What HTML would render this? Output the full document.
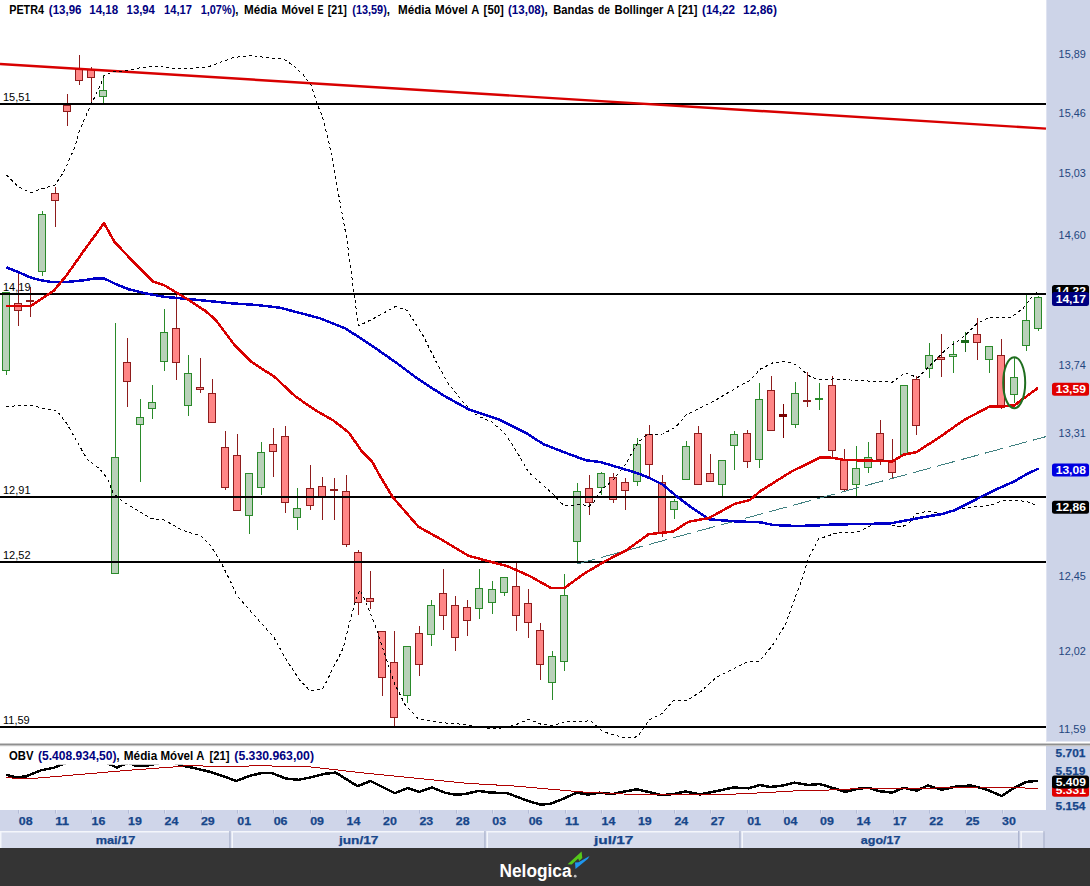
<!DOCTYPE html>
<html><head><meta charset="utf-8"><title>PETR4</title>
<style>
html,body{margin:0;padding:0;background:#fff;}
body{width:1090px;height:886px;overflow:hidden;font-family:"Liberation Sans",sans-serif;}
svg{display:block;font-family:"Liberation Sans",sans-serif;}
.t{font-size:12px;font-weight:bold;}
.n{fill:#000080;}
</style></head><body>
<svg width="1090" height="886" viewBox="0 0 1090 886">
<rect x="0" y="0" width="1090" height="886" fill="#fff"/>
<!-- right axis -->
<rect x="1046" y="0" width="44" height="741.5" fill="#cdd4e8"/>
<rect x="1046" y="0" width="1" height="741.5" fill="#dfe3f1"/>
<rect x="1046" y="746" width="44" height="64" fill="#cdd4e8"/>
<rect x="0" y="810" width="1090" height="38" fill="#cfd5e9"/>
<!-- pane separator -->
<rect x="0" y="743.5" width="1090" height="1.5" fill="#8f8f8f"/>
<rect x="0" y="745" width="1090" height="1.2" fill="#c4c4c4"/>
<!-- title -->
<text x="9.2" y="13.6" font-size="12" font-weight="bold" fill="#000" textLength="34.8" lengthAdjust="spacingAndGlyphs">PETR4</text>
<text x="48.8" y="13.6" font-size="12" font-weight="bold" fill="#000080" textLength="32.7" lengthAdjust="spacingAndGlyphs">(13,96</text>
<text x="89.2" y="13.6" font-size="12" font-weight="bold" fill="#000080" textLength="29.0" lengthAdjust="spacingAndGlyphs">14,18</text>
<text x="126.6" y="13.6" font-size="12" font-weight="bold" fill="#000080" textLength="28.3" lengthAdjust="spacingAndGlyphs">13,94</text>
<text x="164" y="13.6" font-size="12" font-weight="bold" fill="#000080" textLength="27.9" lengthAdjust="spacingAndGlyphs">14,17</text>
<text x="200.7" y="13.6" font-size="12" font-weight="bold" fill="#000080" textLength="34.6" lengthAdjust="spacingAndGlyphs">1,07%)</text>
<text x="235.3" y="13.6" font-size="12" font-weight="bold" fill="#000" textLength="3.2" lengthAdjust="spacingAndGlyphs">,</text>
<text x="244" y="13.6" font-size="12" font-weight="bold" fill="#000" textLength="33.0" lengthAdjust="spacingAndGlyphs">Média</text>
<text x="281.5" y="13.6" font-size="12" font-weight="bold" fill="#000" textLength="32.3" lengthAdjust="spacingAndGlyphs">Móvel</text>
<text x="317.4" y="13.6" font-size="12" font-weight="bold" fill="#000" textLength="6.0" lengthAdjust="spacingAndGlyphs">E</text>
<text x="327.7" y="13.6" font-size="12" font-weight="bold" fill="#000" textLength="19.1" lengthAdjust="spacingAndGlyphs">[21]</text>
<text x="352.3" y="13.6" font-size="12" font-weight="bold" fill="#000080" textLength="34.5" lengthAdjust="spacingAndGlyphs">(13,59)</text>
<text x="386.8" y="13.6" font-size="12" font-weight="bold" fill="#000" textLength="3.2" lengthAdjust="spacingAndGlyphs">,</text>
<text x="398" y="13.6" font-size="12" font-weight="bold" fill="#000" textLength="33.0" lengthAdjust="spacingAndGlyphs">Média</text>
<text x="435" y="13.6" font-size="12" font-weight="bold" fill="#000" textLength="32.8" lengthAdjust="spacingAndGlyphs">Móvel</text>
<text x="471.3" y="13.6" font-size="12" font-weight="bold" fill="#000" textLength="8.1" lengthAdjust="spacingAndGlyphs">A</text>
<text x="483.6" y="13.6" font-size="12" font-weight="bold" fill="#000" textLength="20.2" lengthAdjust="spacingAndGlyphs">[50]</text>
<text x="508" y="13.6" font-size="12" font-weight="bold" fill="#000080" textLength="36.6" lengthAdjust="spacingAndGlyphs">(13,08)</text>
<text x="544.6" y="13.6" font-size="12" font-weight="bold" fill="#000" textLength="3.2" lengthAdjust="spacingAndGlyphs">,</text>
<text x="553.3" y="13.6" font-size="12" font-weight="bold" fill="#000" textLength="40.4" lengthAdjust="spacingAndGlyphs">Bandas</text>
<text x="598" y="13.6" font-size="12" font-weight="bold" fill="#000" textLength="12.0" lengthAdjust="spacingAndGlyphs">de</text>
<text x="614.6" y="13.6" font-size="12" font-weight="bold" fill="#000" textLength="48.8" lengthAdjust="spacingAndGlyphs">Bollinger</text>
<text x="666.8" y="13.6" font-size="12" font-weight="bold" fill="#000" textLength="7.8" lengthAdjust="spacingAndGlyphs">A</text>
<text x="678" y="13.6" font-size="12" font-weight="bold" fill="#000" textLength="19.5" lengthAdjust="spacingAndGlyphs">[21]</text>
<text x="702" y="13.6" font-size="12" font-weight="bold" fill="#000080" textLength="33.0" lengthAdjust="spacingAndGlyphs">(14,22</text>
<text x="743" y="13.6" font-size="12" font-weight="bold" fill="#000080" textLength="34.0" lengthAdjust="spacingAndGlyphs">12,86)</text>
<!-- candles -->
<g shape-rendering="crispEdges">
<line x1="6.5" x2="6.5" y1="292.3" y2="375.3" stroke="#2a8a2a" stroke-width="1"/>
<rect x="2.5" y="292.3" width="7" height="78.3" fill="#b9d1b9" stroke="#2a8a2a" stroke-width="1"/>
<line x1="18.5" x2="18.5" y1="272.5" y2="325.6" stroke="#8e1c1c" stroke-width="1"/>
<rect x="14.5" y="303.8" width="7" height="6.2" fill="#ff8686" stroke="#8e1c1c" stroke-width="1"/>
<line x1="30.5" x2="30.5" y1="287.0" y2="316.6" stroke="#8e1c1c" stroke-width="1"/>
<rect x="26.5" y="300.2" width="7" height="1.0" fill="#ff8686" stroke="#8e1c1c" stroke-width="1"/>
<line x1="42.5" x2="42.5" y1="211.0" y2="275.5" stroke="#2a8a2a" stroke-width="1"/>
<rect x="38.5" y="214.0" width="7" height="57.0" fill="#b9d1b9" stroke="#2a8a2a" stroke-width="1"/>
<line x1="55.5" x2="55.5" y1="187.0" y2="226.7" stroke="#8e1c1c" stroke-width="1"/>
<rect x="51.5" y="193.4" width="7" height="7.1" fill="#ff8686" stroke="#8e1c1c" stroke-width="1"/>
<line x1="67.5" x2="67.5" y1="93.8" y2="125.7" stroke="#8e1c1c" stroke-width="1"/>
<rect x="63.5" y="105.4" width="7" height="6.0" fill="#ff8686" stroke="#8e1c1c" stroke-width="1"/>
<line x1="79.5" x2="79.5" y1="55.0" y2="84.6" stroke="#8e1c1c" stroke-width="1"/>
<rect x="75.5" y="69.2" width="7" height="11.1" fill="#ff8686" stroke="#8e1c1c" stroke-width="1"/>
<line x1="91.5" x2="91.5" y1="67.2" y2="103.8" stroke="#8e1c1c" stroke-width="1"/>
<rect x="87.5" y="69.2" width="7" height="8.1" fill="#ff8686" stroke="#8e1c1c" stroke-width="1"/>
<line x1="103.5" x2="103.5" y1="75.0" y2="103.8" stroke="#2a8a2a" stroke-width="1"/>
<rect x="99.5" y="90.4" width="7" height="6.0" fill="#b9d1b9" stroke="#2a8a2a" stroke-width="1"/>
<line x1="115.5" x2="115.5" y1="323.0" y2="573.2" stroke="#2a8a2a" stroke-width="1"/>
<rect x="111.5" y="457.2" width="7" height="116.0" fill="#b9d1b9" stroke="#2a8a2a" stroke-width="1"/>
<line x1="127.5" x2="127.5" y1="338.0" y2="406.6" stroke="#8e1c1c" stroke-width="1"/>
<rect x="123.5" y="362.4" width="7" height="19.0" fill="#ff8686" stroke="#8e1c1c" stroke-width="1"/>
<line x1="140.5" x2="140.5" y1="399.0" y2="481.6" stroke="#2a8a2a" stroke-width="1"/>
<rect x="136.5" y="417.4" width="7" height="6.9" fill="#b9d1b9" stroke="#2a8a2a" stroke-width="1"/>
<line x1="152.5" x2="152.5" y1="385.0" y2="419.4" stroke="#2a8a2a" stroke-width="1"/>
<rect x="148.5" y="402.5" width="7" height="5.9" fill="#b9d1b9" stroke="#2a8a2a" stroke-width="1"/>
<line x1="164.5" x2="164.5" y1="309.0" y2="370.6" stroke="#2a8a2a" stroke-width="1"/>
<rect x="160.5" y="332.4" width="7" height="29.0" fill="#b9d1b9" stroke="#2a8a2a" stroke-width="1"/>
<line x1="176.5" x2="176.5" y1="293.0" y2="379.6" stroke="#8e1c1c" stroke-width="1"/>
<rect x="172.5" y="328.3" width="7" height="34.1" fill="#ff8686" stroke="#8e1c1c" stroke-width="1"/>
<line x1="188.5" x2="188.5" y1="355.0" y2="416.4" stroke="#2a8a2a" stroke-width="1"/>
<rect x="184.5" y="373.5" width="7" height="31.8" fill="#b9d1b9" stroke="#2a8a2a" stroke-width="1"/>
<line x1="200.5" x2="200.5" y1="358.0" y2="392.5" stroke="#8e1c1c" stroke-width="1"/>
<rect x="196.5" y="387.3" width="7" height="2.1" fill="#ff8686" stroke="#8e1c1c" stroke-width="1"/>
<line x1="212.5" x2="212.5" y1="378.9" y2="422.3" stroke="#8e1c1c" stroke-width="1"/>
<rect x="208.5" y="393.2" width="7" height="29.1" fill="#ff8686" stroke="#8e1c1c" stroke-width="1"/>
<line x1="225.5" x2="225.5" y1="431.0" y2="489.6" stroke="#8e1c1c" stroke-width="1"/>
<rect x="221.5" y="447.2" width="7" height="40.3" fill="#ff8686" stroke="#8e1c1c" stroke-width="1"/>
<line x1="237.5" x2="237.5" y1="433.8" y2="510.4" stroke="#8e1c1c" stroke-width="1"/>
<rect x="233.5" y="455.0" width="7" height="55.4" fill="#ff8686" stroke="#8e1c1c" stroke-width="1"/>
<line x1="249.5" x2="249.5" y1="473.0" y2="534.3" stroke="#2a8a2a" stroke-width="1"/>
<rect x="245.5" y="473.4" width="7" height="41.9" fill="#b9d1b9" stroke="#2a8a2a" stroke-width="1"/>
<line x1="261.5" x2="261.5" y1="442.0" y2="494.7" stroke="#2a8a2a" stroke-width="1"/>
<rect x="257.5" y="452.4" width="7" height="34.9" fill="#b9d1b9" stroke="#2a8a2a" stroke-width="1"/>
<line x1="273.5" x2="273.5" y1="428.2" y2="476.5" stroke="#8e1c1c" stroke-width="1"/>
<rect x="269.5" y="444.4" width="7" height="7.2" fill="#ff8686" stroke="#8e1c1c" stroke-width="1"/>
<line x1="285.5" x2="285.5" y1="426.2" y2="512.5" stroke="#8e1c1c" stroke-width="1"/>
<rect x="281.5" y="436.2" width="7" height="66.3" fill="#ff8686" stroke="#8e1c1c" stroke-width="1"/>
<line x1="297.5" x2="297.5" y1="488.0" y2="529.7" stroke="#2a8a2a" stroke-width="1"/>
<rect x="293.5" y="508.4" width="7" height="9.0" fill="#b9d1b9" stroke="#2a8a2a" stroke-width="1"/>
<line x1="310.5" x2="310.5" y1="465.0" y2="509.6" stroke="#8e1c1c" stroke-width="1"/>
<rect x="306.5" y="488.3" width="7" height="17.0" fill="#ff8686" stroke="#8e1c1c" stroke-width="1"/>
<line x1="322.5" x2="322.5" y1="477.0" y2="519.7" stroke="#8e1c1c" stroke-width="1"/>
<rect x="318.5" y="486.3" width="7" height="10.0" fill="#ff8686" stroke="#8e1c1c" stroke-width="1"/>
<line x1="334.5" x2="334.5" y1="478.0" y2="519.7" stroke="#8e1c1c" stroke-width="1"/>
<rect x="330.5" y="489.5" width="7" height="1.0" fill="#ff8686" stroke="#8e1c1c" stroke-width="1"/>
<line x1="346.5" x2="346.5" y1="474.7" y2="546.6" stroke="#8e1c1c" stroke-width="1"/>
<rect x="342.5" y="491.4" width="7" height="53.2" fill="#ff8686" stroke="#8e1c1c" stroke-width="1"/>
<line x1="358.5" x2="358.5" y1="550.0" y2="615.4" stroke="#8e1c1c" stroke-width="1"/>
<rect x="354.5" y="552.3" width="7" height="50.1" fill="#ff8686" stroke="#8e1c1c" stroke-width="1"/>
<line x1="370.5" x2="370.5" y1="570.7" y2="609.0" stroke="#8e1c1c" stroke-width="1"/>
<rect x="366.5" y="598.2" width="7" height="3.0" fill="#ff8686" stroke="#8e1c1c" stroke-width="1"/>
<line x1="382.5" x2="382.5" y1="631.2" y2="695.7" stroke="#8e1c1c" stroke-width="1"/>
<rect x="378.5" y="631.2" width="7" height="46.2" fill="#ff8686" stroke="#8e1c1c" stroke-width="1"/>
<line x1="394.5" x2="394.5" y1="631.0" y2="725.7" stroke="#8e1c1c" stroke-width="1"/>
<rect x="390.5" y="662.3" width="7" height="55.0" fill="#ff8686" stroke="#8e1c1c" stroke-width="1"/>
<line x1="407.5" x2="407.5" y1="646.4" y2="702.6" stroke="#2a8a2a" stroke-width="1"/>
<rect x="403.5" y="646.4" width="7" height="48.8" fill="#b9d1b9" stroke="#2a8a2a" stroke-width="1"/>
<line x1="419.5" x2="419.5" y1="626.0" y2="675.6" stroke="#8e1c1c" stroke-width="1"/>
<rect x="415.5" y="633.3" width="7" height="30.7" fill="#ff8686" stroke="#8e1c1c" stroke-width="1"/>
<line x1="431.5" x2="431.5" y1="600.0" y2="645.6" stroke="#2a8a2a" stroke-width="1"/>
<rect x="427.5" y="605.0" width="7" height="29.3" fill="#b9d1b9" stroke="#2a8a2a" stroke-width="1"/>
<line x1="443.5" x2="443.5" y1="569.0" y2="629.5" stroke="#8e1c1c" stroke-width="1"/>
<rect x="439.5" y="593.3" width="7" height="22.0" fill="#ff8686" stroke="#8e1c1c" stroke-width="1"/>
<line x1="455.5" x2="455.5" y1="596.0" y2="650.5" stroke="#8e1c1c" stroke-width="1"/>
<rect x="451.5" y="605.4" width="7" height="31.8" fill="#ff8686" stroke="#8e1c1c" stroke-width="1"/>
<line x1="467.5" x2="467.5" y1="600.0" y2="636.2" stroke="#8e1c1c" stroke-width="1"/>
<rect x="463.5" y="607.2" width="7" height="13.0" fill="#ff8686" stroke="#8e1c1c" stroke-width="1"/>
<line x1="479.5" x2="479.5" y1="569.0" y2="619.0" stroke="#2a8a2a" stroke-width="1"/>
<rect x="475.5" y="588.5" width="7" height="19.8" fill="#b9d1b9" stroke="#2a8a2a" stroke-width="1"/>
<line x1="492.5" x2="492.5" y1="581.0" y2="613.5" stroke="#2a8a2a" stroke-width="1"/>
<rect x="488.5" y="589.3" width="7" height="13.1" fill="#b9d1b9" stroke="#2a8a2a" stroke-width="1"/>
<line x1="504.5" x2="504.5" y1="577.3" y2="595.8" stroke="#2a8a2a" stroke-width="1"/>
<rect x="500.5" y="577.3" width="7" height="15.1" fill="#b9d1b9" stroke="#2a8a2a" stroke-width="1"/>
<line x1="516.5" x2="516.5" y1="562.0" y2="630.7" stroke="#8e1c1c" stroke-width="1"/>
<rect x="512.5" y="586.3" width="7" height="29.0" fill="#ff8686" stroke="#8e1c1c" stroke-width="1"/>
<line x1="528.5" x2="528.5" y1="589.0" y2="638.0" stroke="#8e1c1c" stroke-width="1"/>
<rect x="524.5" y="603.5" width="7" height="19.0" fill="#ff8686" stroke="#8e1c1c" stroke-width="1"/>
<line x1="540.5" x2="540.5" y1="623.0" y2="679.8" stroke="#8e1c1c" stroke-width="1"/>
<rect x="536.5" y="630.2" width="7" height="34.1" fill="#ff8686" stroke="#8e1c1c" stroke-width="1"/>
<line x1="552.5" x2="552.5" y1="650.7" y2="699.5" stroke="#2a8a2a" stroke-width="1"/>
<rect x="548.5" y="656.0" width="7" height="26.6" fill="#b9d1b9" stroke="#2a8a2a" stroke-width="1"/>
<line x1="564.5" x2="564.5" y1="574.2" y2="670.8" stroke="#2a8a2a" stroke-width="1"/>
<rect x="560.5" y="595.2" width="7" height="66.3" fill="#b9d1b9" stroke="#2a8a2a" stroke-width="1"/>
<line x1="577.5" x2="577.5" y1="483.0" y2="564.2" stroke="#2a8a2a" stroke-width="1"/>
<rect x="573.5" y="491.3" width="7" height="50.0" fill="#b9d1b9" stroke="#2a8a2a" stroke-width="1"/>
<line x1="589.5" x2="589.5" y1="474.8" y2="514.6" stroke="#8e1c1c" stroke-width="1"/>
<rect x="585.5" y="488.4" width="7" height="13.6" fill="#ff8686" stroke="#8e1c1c" stroke-width="1"/>
<line x1="601.5" x2="601.5" y1="472.0" y2="494.9" stroke="#2a8a2a" stroke-width="1"/>
<rect x="597.5" y="473.0" width="7" height="14.2" fill="#b9d1b9" stroke="#2a8a2a" stroke-width="1"/>
<line x1="613.5" x2="613.5" y1="473.0" y2="502.6" stroke="#8e1c1c" stroke-width="1"/>
<rect x="609.5" y="477.4" width="7" height="21.8" fill="#ff8686" stroke="#8e1c1c" stroke-width="1"/>
<line x1="625.5" x2="625.5" y1="478.2" y2="509.5" stroke="#8e1c1c" stroke-width="1"/>
<rect x="621.5" y="482.5" width="7" height="8.0" fill="#ff8686" stroke="#8e1c1c" stroke-width="1"/>
<line x1="637.5" x2="637.5" y1="437.8" y2="485.6" stroke="#2a8a2a" stroke-width="1"/>
<rect x="633.5" y="444.3" width="7" height="36.9" fill="#b9d1b9" stroke="#2a8a2a" stroke-width="1"/>
<line x1="649.5" x2="649.5" y1="425.0" y2="477.6" stroke="#8e1c1c" stroke-width="1"/>
<rect x="645.5" y="434.5" width="7" height="29.8" fill="#ff8686" stroke="#8e1c1c" stroke-width="1"/>
<line x1="662.5" x2="662.5" y1="475.0" y2="536.7" stroke="#8e1c1c" stroke-width="1"/>
<rect x="658.5" y="482.3" width="7" height="50.3" fill="#ff8686" stroke="#8e1c1c" stroke-width="1"/>
<line x1="674.5" x2="674.5" y1="498.7" y2="519.3" stroke="#2a8a2a" stroke-width="1"/>
<rect x="670.5" y="501.0" width="7" height="8.2" fill="#b9d1b9" stroke="#2a8a2a" stroke-width="1"/>
<line x1="686.5" x2="686.5" y1="441.0" y2="479.2" stroke="#2a8a2a" stroke-width="1"/>
<rect x="682.5" y="446.3" width="7" height="32.9" fill="#b9d1b9" stroke="#2a8a2a" stroke-width="1"/>
<line x1="698.5" x2="698.5" y1="426.0" y2="484.3" stroke="#8e1c1c" stroke-width="1"/>
<rect x="694.5" y="433.5" width="7" height="50.8" fill="#ff8686" stroke="#8e1c1c" stroke-width="1"/>
<line x1="710.5" x2="710.5" y1="453.8" y2="481.2" stroke="#8e1c1c" stroke-width="1"/>
<rect x="706.5" y="473.0" width="7" height="8.2" fill="#ff8686" stroke="#8e1c1c" stroke-width="1"/>
<line x1="722.5" x2="722.5" y1="460.4" y2="495.6" stroke="#2a8a2a" stroke-width="1"/>
<rect x="718.5" y="460.4" width="7" height="23.9" fill="#b9d1b9" stroke="#2a8a2a" stroke-width="1"/>
<line x1="734.5" x2="734.5" y1="431.0" y2="469.7" stroke="#2a8a2a" stroke-width="1"/>
<rect x="730.5" y="434.5" width="7" height="10.8" fill="#b9d1b9" stroke="#2a8a2a" stroke-width="1"/>
<line x1="747.5" x2="747.5" y1="430.0" y2="467.6" stroke="#8e1c1c" stroke-width="1"/>
<rect x="743.5" y="433.5" width="7" height="27.7" fill="#ff8686" stroke="#8e1c1c" stroke-width="1"/>
<line x1="759.5" x2="759.5" y1="383.0" y2="467.6" stroke="#2a8a2a" stroke-width="1"/>
<rect x="755.5" y="399.3" width="7" height="59.9" fill="#b9d1b9" stroke="#2a8a2a" stroke-width="1"/>
<line x1="771.5" x2="771.5" y1="376.0" y2="430.1" stroke="#8e1c1c" stroke-width="1"/>
<rect x="767.5" y="390.3" width="7" height="39.8" fill="#ff8686" stroke="#8e1c1c" stroke-width="1"/>
<line x1="783.5" x2="783.5" y1="404.0" y2="438.3" stroke="#7a0000" stroke-width="1"/>
<rect x="779.5" y="414.7" width="7" height="2.1" fill="#7a0000" stroke="#7a0000" stroke-width="1"/>
<line x1="795.5" x2="795.5" y1="382.0" y2="427.6" stroke="#2a8a2a" stroke-width="1"/>
<rect x="791.5" y="393.0" width="7" height="31.2" fill="#b9d1b9" stroke="#2a8a2a" stroke-width="1"/>
<line x1="807.5" x2="807.5" y1="371.6" y2="407.0" stroke="#8e1c1c" stroke-width="1"/>
<rect x="803.5" y="400.5" width="7" height="1.0" fill="#ff8686" stroke="#8e1c1c" stroke-width="1"/>
<line x1="819.5" x2="819.5" y1="383.0" y2="409.8" stroke="#2a8a2a" stroke-width="1"/>
<rect x="815.5" y="398.0" width="7" height="1.0" fill="#b9d1b9" stroke="#2a8a2a" stroke-width="1"/>
<line x1="832.5" x2="832.5" y1="376.0" y2="457.4" stroke="#8e1c1c" stroke-width="1"/>
<rect x="828.5" y="385.2" width="7" height="65.0" fill="#ff8686" stroke="#8e1c1c" stroke-width="1"/>
<line x1="844.5" x2="844.5" y1="448.8" y2="490.6" stroke="#8e1c1c" stroke-width="1"/>
<rect x="840.5" y="459.8" width="7" height="29.2" fill="#ff8686" stroke="#8e1c1c" stroke-width="1"/>
<line x1="856.5" x2="856.5" y1="446.2" y2="495.8" stroke="#2a8a2a" stroke-width="1"/>
<rect x="852.5" y="468.5" width="7" height="16.0" fill="#b9d1b9" stroke="#2a8a2a" stroke-width="1"/>
<line x1="868.5" x2="868.5" y1="441.8" y2="472.6" stroke="#2a8a2a" stroke-width="1"/>
<rect x="864.5" y="457.2" width="7" height="10.1" fill="#b9d1b9" stroke="#2a8a2a" stroke-width="1"/>
<line x1="880.5" x2="880.5" y1="420.0" y2="465.0" stroke="#8e1c1c" stroke-width="1"/>
<rect x="876.5" y="433.3" width="7" height="26.0" fill="#ff8686" stroke="#8e1c1c" stroke-width="1"/>
<line x1="892.5" x2="892.5" y1="439.3" y2="477.8" stroke="#8e1c1c" stroke-width="1"/>
<rect x="888.5" y="461.3" width="7" height="10.8" fill="#ff8686" stroke="#8e1c1c" stroke-width="1"/>
<line x1="904.5" x2="904.5" y1="385.3" y2="454.7" stroke="#2a8a2a" stroke-width="1"/>
<rect x="900.5" y="385.3" width="7" height="69.4" fill="#b9d1b9" stroke="#2a8a2a" stroke-width="1"/>
<line x1="916.5" x2="916.5" y1="376.3" y2="435.4" stroke="#8e1c1c" stroke-width="1"/>
<rect x="912.5" y="379.7" width="7" height="45.7" fill="#ff8686" stroke="#8e1c1c" stroke-width="1"/>
<line x1="929.5" x2="929.5" y1="343.2" y2="378.4" stroke="#2a8a2a" stroke-width="1"/>
<rect x="925.5" y="355.3" width="7" height="13.1" fill="#b9d1b9" stroke="#2a8a2a" stroke-width="1"/>
<line x1="941.5" x2="941.5" y1="334.0" y2="376.6" stroke="#8e1c1c" stroke-width="1"/>
<rect x="937.5" y="357.0" width="7" height="2.4" fill="#ff8686" stroke="#8e1c1c" stroke-width="1"/>
<line x1="953.5" x2="953.5" y1="340.6" y2="372.7" stroke="#2a8a2a" stroke-width="1"/>
<rect x="949.5" y="354.2" width="7" height="2.1" fill="#b9d1b9" stroke="#2a8a2a" stroke-width="1"/>
<line x1="965.5" x2="965.5" y1="332.0" y2="351.7" stroke="#1a6a1a" stroke-width="1"/>
<rect x="961.5" y="340.9" width="7" height="1.8" fill="#1a6a1a" stroke="#1a6a1a" stroke-width="1"/>
<line x1="977.5" x2="977.5" y1="318.0" y2="359.6" stroke="#8e1c1c" stroke-width="1"/>
<rect x="973.5" y="334.2" width="7" height="8.0" fill="#ff8686" stroke="#8e1c1c" stroke-width="1"/>
<line x1="989.5" x2="989.5" y1="346.5" y2="372.5" stroke="#2a8a2a" stroke-width="1"/>
<rect x="985.5" y="346.5" width="7" height="12.6" fill="#b9d1b9" stroke="#2a8a2a" stroke-width="1"/>
<line x1="1001.5" x2="1001.5" y1="338.6" y2="409.0" stroke="#8e1c1c" stroke-width="1"/>
<rect x="997.5" y="355.3" width="7" height="51.9" fill="#ff8686" stroke="#8e1c1c" stroke-width="1"/>
<line x1="1014.5" x2="1014.5" y1="358.3" y2="403.3" stroke="#2a8a2a" stroke-width="1"/>
<rect x="1010.5" y="377.0" width="7" height="17.8" fill="#b9d1b9" stroke="#2a8a2a" stroke-width="1"/>
<line x1="1026.5" x2="1026.5" y1="294.0" y2="350.6" stroke="#2a8a2a" stroke-width="1"/>
<rect x="1022.5" y="320.3" width="7" height="24.9" fill="#b9d1b9" stroke="#2a8a2a" stroke-width="1"/>
<line x1="1038.5" x2="1038.5" y1="296.0" y2="331.4" stroke="#2a8a2a" stroke-width="1"/>
<rect x="1034.5" y="297.2" width="7" height="31.1" fill="#b9d1b9" stroke="#2a8a2a" stroke-width="1"/>
</g>
<!-- horizontal lines -->
<g shape-rendering="crispEdges">
<rect x="0" y="103" width="1046" height="2" fill="#000"/><text x="3" y="101" font-size="11" fill="#000">15,51</text>
<rect x="0" y="293" width="1046" height="2" fill="#000"/><text x="3" y="291" font-size="11" fill="#000">14,19</text>
<rect x="0" y="496" width="1046" height="2" fill="#000"/><text x="3" y="494" font-size="11" fill="#000">12,91</text>
<rect x="0" y="561" width="1046" height="2" fill="#000"/><text x="3" y="559" font-size="11" fill="#000">12,52</text>
<rect x="0" y="726" width="1046" height="2" fill="#000"/><text x="3" y="724" font-size="11" fill="#000">11,59</text>
</g>
<g shape-rendering="crispEdges" fill="none" stroke-linejoin="round">
<!-- trend line red -->
<line x1="0" y1="64" x2="1046" y2="128.6" stroke="#d80000" stroke-width="2.4" shape-rendering="geometricPrecision"/>
<!-- teal dashed -->
<line x1="577" y1="564" x2="1046" y2="436.6" stroke="#408080" stroke-width="1" stroke-dasharray="18.65 6.22"/>
<!-- bollinger -->
<polyline points="6.4,175.0 18.0,186.4 30.8,192.8 41.0,189.0 55.2,185.0 64.2,171.0 74.5,148.0 79.6,130.0 90.0,106.8 100.0,86.0 104.0,76.0 111.8,72.0 128.5,70.3 141.4,67.5 156.8,66.2 172.2,68.3 192.7,68.3 208.0,67.0 218.4,63.0 233.8,57.5 250.5,55.4 269.8,58.0 282.6,58.5 293.0,65.2 303.2,74.7 311.0,85.0 317.3,104.2 322.5,117.0 329.0,142.7 334.0,168.4 340.4,204.4 347.0,240.4 353.4,288.8 358.5,326.0 376.5,317.0 395.8,306.3 407.3,310.6 422.7,335.0 435.6,360.7 448.4,383.8 463.8,403.0 474.0,413.4 480.0,416.9 491.7,422.0 505.0,433.8 516.7,451.4 528.4,472.0 543.0,485.0 554.9,496.0 559.3,501.3 564.4,505.7 574.0,505.0 582.8,504.5 588.6,507.0 594.5,501.3 601.8,489.5 609.0,483.7 615.0,477.8 625.3,464.6 632.7,451.4 637.8,442.6 647.0,434.5 662.7,434.0 675.6,427.3 685.9,415.2 696.0,410.0 714.0,401.0 727.0,393.4 739.8,385.7 750.0,380.5 760.4,369.0 773.2,362.6 786.0,361.3 796.3,365.0 804.0,371.6 810.4,376.7 819.4,380.0 833.0,378.9 861.4,380.7 892.2,382.2 905.0,373.0 917.9,377.6 930.7,364.8 946.0,349.4 964.0,336.5 977.0,323.7 989.8,317.2 1010.4,318.0 1023.2,308.3 1031.0,298.0 1038.0,290.8" stroke="#000" stroke-width="1" stroke-dasharray="3 3"/>
<polyline points="6.4,407.0 20.5,405.2 33.4,405.2 41.0,408.3 56.5,410.3 66.8,423.7 77.0,441.6 87.3,459.6 100.2,469.4 107.9,479.4 113.0,493.0 123.3,502.0 138.7,511.0 151.6,518.7 164.4,520.0 179.8,529.0 190.0,532.8 200.4,535.4 210.6,545.7 220.9,562.4 231.2,583.0 236.7,595.2 253.4,614.5 274.0,637.6 286.8,660.7 299.6,680.0 310.0,690.8 322.7,689.0 333.0,668.4 343.3,647.9 351.0,617.0 356.0,599.0 360.0,590.0 365.0,600.4 374.0,622.2 384.4,653.0 394.7,683.8 405.0,704.4 417.8,718.5 438.3,722.4 464.0,724.4 486.4,728.3 499.3,728.3 514.7,725.2 528.8,719.3 540.4,724.0 553.2,725.7 566.0,721.4 579.0,722.0 590.4,720.6 597.0,726.5 602.8,731.6 615.7,735.5 626.0,738.0 637.5,736.8 649.0,720.0 662.0,713.7 673.5,700.3 687.6,700.3 700.5,691.8 715.9,677.7 731.3,670.0 746.7,662.3 759.5,661.0 772.4,645.6 785.2,625.0 795.5,596.8 803.2,576.2 808.3,558.3 818.6,539.0 836.6,533.0 858.6,531.8 873.0,524.7 889.6,524.7 901.6,527.0 908.7,523.5 915.9,514.0 925.4,511.6 935.0,512.3 942.0,515.0 956.4,509.2 973.0,506.8 989.8,505.6 1001.8,500.8 1018.4,500.4 1028.0,502.0 1035.0,504.9" stroke="#000" stroke-width="1" stroke-dasharray="3 3"/>
<!-- SMA blue -->
<polyline points="6.4,267.3 18.0,272.0 30.8,277.6 41.0,280.2 51.4,282.0 66.8,282.0 84.8,280.2 95.0,278.4 104.0,278.4 115.6,284.0 128.4,289.2 143.8,293.0 164.4,296.9 179.8,298.2 205.5,300.7 231.2,303.3 256.9,305.0 280.0,307.7 320.0,318.3 345.7,328.6 371.4,345.3 397.0,363.3 417.6,378.7 443.3,395.4 469.0,409.5 499.8,419.8 525.5,432.7 543.5,444.2 566.6,453.2 585.7,460.2 601.0,462.2 637.0,473.0 650.0,478.2 662.7,484.6 678.0,497.4 693.6,509.0 709.0,519.3 734.7,521.3 760.4,522.3 773.2,525.0 796.3,526.0 816.9,525.4 830.0,524.7 858.6,524.0 889.6,523.5 908.7,520.0 925.4,516.8 942.0,514.0 954.0,510.4 968.4,503.2 982.7,496.0 997.0,489.0 1013.7,481.7 1028.0,473.4 1038.7,468.6" stroke="#0000c8" stroke-width="2.5"/>
<!-- EMA red -->
<polyline points="6.4,305.9 30.8,305.9 38.5,300.7 54.0,290.5 66.8,275.0 84.8,249.4 104.0,223.2 114.3,241.6 133.6,262.2 152.8,281.5 164.4,285.3 177.2,293.0 190.0,300.7 205.5,311.0 215.8,320.0 233.7,344.0 251.6,362.0 274.7,377.0 295.2,396.3 315.8,410.5 333.7,420.7 349.0,432.8 362.0,451.6 372.0,461.4 380.0,476.0 392.6,497.0 418.3,526.6 441.5,539.6 468.4,555.7 491.5,562.0 507.0,566.0 530.0,576.2 550.6,587.8 564.7,587.8 584.0,573.7 604.6,561.5 626.8,550.0 648.6,534.2 673.0,531.6 688.4,521.8 709.0,518.0 734.7,503.8 750.0,500.0 760.4,491.0 791.2,471.7 820.5,457.3 832.0,457.8 843.4,459.8 892.2,461.4 903.8,454.7 916.6,452.0 938.4,438.0 964.0,420.0 989.8,406.4 1002.7,406.4 1014.2,405.4 1025.8,396.9 1038.0,387.9" stroke="#d80000" stroke-width="2.5"/>
</g>
<!-- ellipse -->
<ellipse cx="1014.2" cy="382.7" rx="11" ry="25.5" fill="none" stroke="#1f6e1f" stroke-width="2"/>
<!-- axis labels -->
<text x="1058.6" y="58.2" font-size="11" fill="#24467e" textLength="27.2" lengthAdjust="spacingAndGlyphs">15,89</text><text x="1058.6" y="117.0" font-size="11" fill="#24467e" textLength="27.2" lengthAdjust="spacingAndGlyphs">15,46</text><text x="1058.6" y="176.9" font-size="11" fill="#24467e" textLength="27.2" lengthAdjust="spacingAndGlyphs">15,03</text><text x="1058.6" y="239.2" font-size="11" fill="#24467e" textLength="27.2" lengthAdjust="spacingAndGlyphs">14,60</text>
<text x="1058.6" y="368.8" font-size="11" fill="#24467e" textLength="27.2" lengthAdjust="spacingAndGlyphs">13,74</text><text x="1058.6" y="437.3" font-size="11" fill="#24467e" textLength="27.2" lengthAdjust="spacingAndGlyphs">13,31</text><text x="1058.6" y="579.8" font-size="11" fill="#24467e" textLength="27.2" lengthAdjust="spacingAndGlyphs">12,45</text><text x="1058.6" y="655.2" font-size="11" fill="#24467e" textLength="27.2" lengthAdjust="spacingAndGlyphs">12,02</text><text x="1058.6" y="733.0" font-size="11" fill="#24467e" textLength="27.2" lengthAdjust="spacingAndGlyphs">11,59</text>
<rect x="1052" y="285" width="37" height="13" rx="2.5" fill="#000"/><text x="1055.7" y="295.4" font-size="11" font-weight="bold" fill="#fff" textLength="30.2" lengthAdjust="spacingAndGlyphs">14,22</text>
<rect x="1052" y="292" width="37" height="14" rx="2.5" fill="#000080"/><text x="1055.7" y="303.4" font-size="11" font-weight="bold" fill="#fff" textLength="30.2" lengthAdjust="spacingAndGlyphs">14,17</text>
<rect x="1052" y="382.7" width="37" height="13" rx="2.5" fill="#e00000"/><text x="1055.7" y="393.1" font-size="11" font-weight="bold" fill="#fff" textLength="30.2" lengthAdjust="spacingAndGlyphs">13,59</text>
<rect x="1052" y="463.5" width="37" height="13" rx="2.5" fill="#0000e0"/><text x="1055.7" y="473.9" font-size="11" font-weight="bold" fill="#fff" textLength="30.2" lengthAdjust="spacingAndGlyphs">13,08</text>
<rect x="1052" y="500.8" width="37" height="13" rx="2.5" fill="#000"/><text x="1055.7" y="511.2" font-size="11" font-weight="bold" fill="#fff" textLength="30.2" lengthAdjust="spacingAndGlyphs">12,86</text>
<!-- OBV pane -->
<g shape-rendering="crispEdges" fill="none" stroke-linejoin="round">
<polyline points="6.4,774.7 15.4,777.2 25.7,776.5 41.0,770.3 54.0,767.7 60.4,765.0 70.0,762.0 85.0,759.0 100.0,760.0 113.0,765.7 116.9,767.7 122.0,765.2 128.0,763.0 136.0,765.7 146.4,765.7 160.0,763.0 175.0,763.0 182.4,765.7 195.2,768.3 210.6,772.0 226.0,777.2 236.3,781.0 249.2,776.0 262.0,772.9 271.6,772.9 285.7,778.5 298.5,779.8 311.4,777.2 324.2,773.9 335.8,772.6 347.3,779.8 357.6,786.2 370.5,781.0 383.3,787.5 394.9,793.2 407.7,788.0 419.3,791.9 432.0,787.5 445.0,792.7 455.2,794.7 465.5,794.0 478.3,790.9 491.2,792.7 506.6,792.9 519.4,797.8 530.3,801.6 540.5,804.7 550.8,803.7 563.7,798.6 576.5,792.7 588.0,794.5 599.6,792.7 612.5,794.0 625.3,791.4 636.9,789.3 648.4,791.9 661.3,795.2 674.0,794.0 685.7,791.4 699.8,794.5 715.2,791.4 733.2,787.5 748.6,788.3 760.2,785.0 770.4,787.0 782.0,785.7 794.2,782.7 808.4,785.0 819.8,784.0 834.0,788.3 845.4,791.8 856.8,788.9 868.2,787.8 879.5,791.2 892.3,792.6 903.7,787.8 916.5,790.6 927.9,785.5 942.0,789.8 956.3,786.4 970.6,785.5 984.8,788.9 1001.8,796.0 1013.2,788.3 1026.0,782.0 1038.2,780.7" stroke="#000" stroke-width="2.5"/>
<polyline points="6.4,777.2 15.4,778.5 38.5,778.0 77.0,774.7 128.4,770.3 179.8,766.5 185.0,765.7 231.2,766.5 260.0,765.7 311.4,767.0 362.7,772.9 414.0,778.0 465.5,783.2 516.9,786.2 545.7,788.8 584.2,792.1 622.7,794.0 674.0,794.7 725.5,794.5 764.0,792.7 800.0,790.6 817.0,790.6 865.3,788.3 922.2,788.3 979.0,787.0 1038.2,788.3" stroke="#b00000" stroke-width="1"/>
</g>
<rect x="7" y="747" width="310" height="17.8" fill="#fff"/>
<text x="9" y="759.5" font-size="12" font-weight="bold" fill="#000" textLength="24.4" lengthAdjust="spacingAndGlyphs">OBV</text>
<text x="38" y="759.5" font-size="12" font-weight="bold" fill="#000080" textLength="78.4" lengthAdjust="spacingAndGlyphs">(5.408.934,50)</text>
<text x="116.4" y="759.5" font-size="12" font-weight="bold" fill="#000" textLength="3.0" lengthAdjust="spacingAndGlyphs">,</text>
<text x="123.8" y="759.5" font-size="12" font-weight="bold" fill="#000" textLength="33.4" lengthAdjust="spacingAndGlyphs">Média</text>
<text x="160.5" y="759.5" font-size="12" font-weight="bold" fill="#000" textLength="32.7" lengthAdjust="spacingAndGlyphs">Móvel</text>
<text x="196.3" y="759.5" font-size="12" font-weight="bold" fill="#000" textLength="8.1" lengthAdjust="spacingAndGlyphs">A</text>
<text x="209.4" y="759.5" font-size="12" font-weight="bold" fill="#000" textLength="20.0" lengthAdjust="spacingAndGlyphs">[21]</text>
<text x="234.3" y="759.5" font-size="12" font-weight="bold" fill="#000080" textLength="79.7" lengthAdjust="spacingAndGlyphs">(5.330.963,00)</text>
<text x="1055.6" y="757.0" font-size="11" font-weight="bold" fill="#17468a" stroke="#17468a" stroke-width="0.25" textLength="29.8" lengthAdjust="spacingAndGlyphs">5.701</text><text x="1055.6" y="774.7" font-size="11" font-weight="bold" fill="#17468a" stroke="#17468a" stroke-width="0.25" textLength="29.8" lengthAdjust="spacingAndGlyphs">5.519</text><text x="1055.6" y="810.2" font-size="11" font-weight="bold" fill="#17468a" stroke="#17468a" stroke-width="0.25" textLength="29.8" lengthAdjust="spacingAndGlyphs">5.154</text>
<rect x="1052" y="783.7" width="37" height="13" rx="2.5" fill="#e00000"/><text x="1055.7" y="794.1" font-size="11" font-weight="bold" fill="#fff" textLength="30.2" lengthAdjust="spacingAndGlyphs">5.331</text>
<rect x="1052" y="775.4" width="37" height="13" rx="2.5" fill="#000"/><text x="1055.7" y="785.8" font-size="11" font-weight="bold" fill="#fff" textLength="30.2" lengthAdjust="spacingAndGlyphs">5.409</text>
<!-- date axis -->
<rect x="18" y="810" width="1" height="3.5" fill="#b3bbd6"/><rect x="19" y="810" width="1" height="3.5" fill="#dde2f0"/>
<text x="18.8" y="825" font-size="11" font-weight="bold" fill="#17468a" stroke="#17468a" stroke-width="0.25" textLength="13.8" lengthAdjust="spacingAndGlyphs">08</text>
<rect x="55" y="810" width="1" height="3.5" fill="#b3bbd6"/><rect x="56" y="810" width="1" height="3.5" fill="#dde2f0"/>
<text x="55.2" y="825" font-size="11" font-weight="bold" fill="#17468a" stroke="#17468a" stroke-width="0.25" textLength="13.8" lengthAdjust="spacingAndGlyphs">11</text>
<rect x="91" y="810" width="1" height="3.5" fill="#b3bbd6"/><rect x="92" y="810" width="1" height="3.5" fill="#dde2f0"/>
<text x="91.6" y="825" font-size="11" font-weight="bold" fill="#17468a" stroke="#17468a" stroke-width="0.25" textLength="13.8" lengthAdjust="spacingAndGlyphs">16</text>
<rect x="128" y="810" width="1" height="3.5" fill="#b3bbd6"/><rect x="129" y="810" width="1" height="3.5" fill="#dde2f0"/>
<text x="128.1" y="825" font-size="11" font-weight="bold" fill="#17468a" stroke="#17468a" stroke-width="0.25" textLength="13.8" lengthAdjust="spacingAndGlyphs">19</text>
<rect x="164" y="810" width="1" height="3.5" fill="#b3bbd6"/><rect x="165" y="810" width="1" height="3.5" fill="#dde2f0"/>
<text x="164.5" y="825" font-size="11" font-weight="bold" fill="#17468a" stroke="#17468a" stroke-width="0.25" textLength="13.8" lengthAdjust="spacingAndGlyphs">24</text>
<rect x="201" y="810" width="1" height="3.5" fill="#b3bbd6"/><rect x="202" y="810" width="1" height="3.5" fill="#dde2f0"/>
<text x="200.9" y="825" font-size="11" font-weight="bold" fill="#17468a" stroke="#17468a" stroke-width="0.25" textLength="13.8" lengthAdjust="spacingAndGlyphs">29</text>
<rect x="237" y="810" width="1" height="3.5" fill="#b3bbd6"/><rect x="238" y="810" width="1" height="3.5" fill="#dde2f0"/>
<text x="237.3" y="825" font-size="11" font-weight="bold" fill="#17468a" stroke="#17468a" stroke-width="0.25" textLength="13.8" lengthAdjust="spacingAndGlyphs">01</text>
<rect x="273" y="810" width="1" height="3.5" fill="#b3bbd6"/><rect x="274" y="810" width="1" height="3.5" fill="#dde2f0"/>
<text x="273.7" y="825" font-size="11" font-weight="bold" fill="#17468a" stroke="#17468a" stroke-width="0.25" textLength="13.8" lengthAdjust="spacingAndGlyphs">06</text>
<rect x="310" y="810" width="1" height="3.5" fill="#b3bbd6"/><rect x="311" y="810" width="1" height="3.5" fill="#dde2f0"/>
<text x="310.2" y="825" font-size="11" font-weight="bold" fill="#17468a" stroke="#17468a" stroke-width="0.25" textLength="13.8" lengthAdjust="spacingAndGlyphs">09</text>
<rect x="346" y="810" width="1" height="3.5" fill="#b3bbd6"/><rect x="347" y="810" width="1" height="3.5" fill="#dde2f0"/>
<text x="346.6" y="825" font-size="11" font-weight="bold" fill="#17468a" stroke="#17468a" stroke-width="0.25" textLength="13.8" lengthAdjust="spacingAndGlyphs">14</text>
<rect x="383" y="810" width="1" height="3.5" fill="#b3bbd6"/><rect x="384" y="810" width="1" height="3.5" fill="#dde2f0"/>
<text x="383.0" y="825" font-size="11" font-weight="bold" fill="#17468a" stroke="#17468a" stroke-width="0.25" textLength="13.8" lengthAdjust="spacingAndGlyphs">20</text>
<rect x="419" y="810" width="1" height="3.5" fill="#b3bbd6"/><rect x="420" y="810" width="1" height="3.5" fill="#dde2f0"/>
<text x="419.4" y="825" font-size="11" font-weight="bold" fill="#17468a" stroke="#17468a" stroke-width="0.25" textLength="13.8" lengthAdjust="spacingAndGlyphs">23</text>
<rect x="456" y="810" width="1" height="3.5" fill="#b3bbd6"/><rect x="457" y="810" width="1" height="3.5" fill="#dde2f0"/>
<text x="455.8" y="825" font-size="11" font-weight="bold" fill="#17468a" stroke="#17468a" stroke-width="0.25" textLength="13.8" lengthAdjust="spacingAndGlyphs">28</text>
<rect x="492" y="810" width="1" height="3.5" fill="#b3bbd6"/><rect x="493" y="810" width="1" height="3.5" fill="#dde2f0"/>
<text x="492.3" y="825" font-size="11" font-weight="bold" fill="#17468a" stroke="#17468a" stroke-width="0.25" textLength="13.8" lengthAdjust="spacingAndGlyphs">03</text>
<rect x="528" y="810" width="1" height="3.5" fill="#b3bbd6"/><rect x="529" y="810" width="1" height="3.5" fill="#dde2f0"/>
<text x="528.7" y="825" font-size="11" font-weight="bold" fill="#17468a" stroke="#17468a" stroke-width="0.25" textLength="13.8" lengthAdjust="spacingAndGlyphs">06</text>
<rect x="565" y="810" width="1" height="3.5" fill="#b3bbd6"/><rect x="566" y="810" width="1" height="3.5" fill="#dde2f0"/>
<text x="565.1" y="825" font-size="11" font-weight="bold" fill="#17468a" stroke="#17468a" stroke-width="0.25" textLength="13.8" lengthAdjust="spacingAndGlyphs">11</text>
<rect x="601" y="810" width="1" height="3.5" fill="#b3bbd6"/><rect x="602" y="810" width="1" height="3.5" fill="#dde2f0"/>
<text x="601.5" y="825" font-size="11" font-weight="bold" fill="#17468a" stroke="#17468a" stroke-width="0.25" textLength="13.8" lengthAdjust="spacingAndGlyphs">14</text>
<rect x="638" y="810" width="1" height="3.5" fill="#b3bbd6"/><rect x="639" y="810" width="1" height="3.5" fill="#dde2f0"/>
<text x="637.9" y="825" font-size="11" font-weight="bold" fill="#17468a" stroke="#17468a" stroke-width="0.25" textLength="13.8" lengthAdjust="spacingAndGlyphs">19</text>
<rect x="674" y="810" width="1" height="3.5" fill="#b3bbd6"/><rect x="675" y="810" width="1" height="3.5" fill="#dde2f0"/>
<text x="674.4" y="825" font-size="11" font-weight="bold" fill="#17468a" stroke="#17468a" stroke-width="0.25" textLength="13.8" lengthAdjust="spacingAndGlyphs">24</text>
<rect x="710" y="810" width="1" height="3.5" fill="#b3bbd6"/><rect x="711" y="810" width="1" height="3.5" fill="#dde2f0"/>
<text x="710.8" y="825" font-size="11" font-weight="bold" fill="#17468a" stroke="#17468a" stroke-width="0.25" textLength="13.8" lengthAdjust="spacingAndGlyphs">27</text>
<rect x="747" y="810" width="1" height="3.5" fill="#b3bbd6"/><rect x="748" y="810" width="1" height="3.5" fill="#dde2f0"/>
<text x="747.2" y="825" font-size="11" font-weight="bold" fill="#17468a" stroke="#17468a" stroke-width="0.25" textLength="13.8" lengthAdjust="spacingAndGlyphs">01</text>
<rect x="783" y="810" width="1" height="3.5" fill="#b3bbd6"/><rect x="784" y="810" width="1" height="3.5" fill="#dde2f0"/>
<text x="783.6" y="825" font-size="11" font-weight="bold" fill="#17468a" stroke="#17468a" stroke-width="0.25" textLength="13.8" lengthAdjust="spacingAndGlyphs">04</text>
<rect x="820" y="810" width="1" height="3.5" fill="#b3bbd6"/><rect x="821" y="810" width="1" height="3.5" fill="#dde2f0"/>
<text x="820.0" y="825" font-size="11" font-weight="bold" fill="#17468a" stroke="#17468a" stroke-width="0.25" textLength="13.8" lengthAdjust="spacingAndGlyphs">09</text>
<rect x="856" y="810" width="1" height="3.5" fill="#b3bbd6"/><rect x="857" y="810" width="1" height="3.5" fill="#dde2f0"/>
<text x="856.5" y="825" font-size="11" font-weight="bold" fill="#17468a" stroke="#17468a" stroke-width="0.25" textLength="13.8" lengthAdjust="spacingAndGlyphs">14</text>
<rect x="893" y="810" width="1" height="3.5" fill="#b3bbd6"/><rect x="894" y="810" width="1" height="3.5" fill="#dde2f0"/>
<text x="892.9" y="825" font-size="11" font-weight="bold" fill="#17468a" stroke="#17468a" stroke-width="0.25" textLength="13.8" lengthAdjust="spacingAndGlyphs">17</text>
<rect x="929" y="810" width="1" height="3.5" fill="#b3bbd6"/><rect x="930" y="810" width="1" height="3.5" fill="#dde2f0"/>
<text x="929.3" y="825" font-size="11" font-weight="bold" fill="#17468a" stroke="#17468a" stroke-width="0.25" textLength="13.8" lengthAdjust="spacingAndGlyphs">22</text>
<rect x="965" y="810" width="1" height="3.5" fill="#b3bbd6"/><rect x="966" y="810" width="1" height="3.5" fill="#dde2f0"/>
<text x="965.7" y="825" font-size="11" font-weight="bold" fill="#17468a" stroke="#17468a" stroke-width="0.25" textLength="13.8" lengthAdjust="spacingAndGlyphs">25</text>
<rect x="1002" y="810" width="1" height="3.5" fill="#b3bbd6"/><rect x="1003" y="810" width="1" height="3.5" fill="#dde2f0"/>
<text x="1002.1" y="825" font-size="11" font-weight="bold" fill="#17468a" stroke="#17468a" stroke-width="0.25" textLength="13.8" lengthAdjust="spacingAndGlyphs">30</text>
<rect x="0" y="831" width="230.5" height="17" fill="#d7dcec"/><rect x="0" y="831" width="230.5" height="1.5" fill="#f4f6fb"/><rect x="0" y="831" width="1.5" height="17" fill="#f4f6fb"/><rect x="229.3" y="831" width="1.2" height="17" fill="#a9b1cc"/><text x="95.7" y="843.6" font-size="11" font-weight="bold" fill="#17468a" stroke="#17468a" stroke-width="0.25" textLength="39.6" lengthAdjust="spacingAndGlyphs">mai/17</text>
<rect x="231.5" y="831" width="254.0" height="17" fill="#d7dcec"/><rect x="231.5" y="831" width="254.0" height="1.5" fill="#f4f6fb"/><rect x="231.5" y="831" width="1.5" height="17" fill="#f4f6fb"/><rect x="484.3" y="831" width="1.2" height="17" fill="#a9b1cc"/><text x="338.9" y="843.6" font-size="11" font-weight="bold" fill="#17468a" stroke="#17468a" stroke-width="0.25" textLength="39.6" lengthAdjust="spacingAndGlyphs">jun/17</text>
<rect x="486.5" y="831" width="254.0" height="17" fill="#d7dcec"/><rect x="486.5" y="831" width="254.0" height="1.5" fill="#f4f6fb"/><rect x="486.5" y="831" width="1.5" height="17" fill="#f4f6fb"/><rect x="739.3" y="831" width="1.2" height="17" fill="#a9b1cc"/><text x="593.9" y="843.6" font-size="11" font-weight="bold" fill="#17468a" stroke="#17468a" stroke-width="0.25" textLength="39.6" lengthAdjust="spacingAndGlyphs">jul/17</text>
<rect x="741.5" y="831" width="277.79999999999995" height="17" fill="#d7dcec"/><rect x="741.5" y="831" width="277.79999999999995" height="1.5" fill="#f4f6fb"/><rect x="741.5" y="831" width="1.5" height="17" fill="#f4f6fb"/><rect x="1018.0999999999999" y="831" width="1.2" height="17" fill="#a9b1cc"/><text x="860.8" y="843.6" font-size="11" font-weight="bold" fill="#17468a" stroke="#17468a" stroke-width="0.25" textLength="39.6" lengthAdjust="spacingAndGlyphs">ago/17</text>
<rect x="1020.4" y="831" width="24.199999999999932" height="17" fill="#d7dcec"/><rect x="1020.4" y="831" width="24.199999999999932" height="1.5" fill="#f4f6fb"/><rect x="1020.4" y="831" width="1.5" height="17" fill="#f4f6fb"/><rect x="1043.3999999999999" y="831" width="1.2" height="17" fill="#a9b1cc"/>
<!-- footer -->
<rect x="0" y="848" width="1090" height="38" fill="#343434"/>
<text x="499.5" y="877.2" font-size="18" font-weight="bold" fill="#fff" textLength="72" lengthAdjust="spacingAndGlyphs">Nelogica</text>
<circle cx="575.2" cy="876.2" r="1.4" fill="#bdbdbd"/>
<polygon points="567.6,864.2 581.6,851.6 582.3,858 579.2,860.9 578.2,858.6 571.7,864.4" fill="#55c81a"/>
<polygon points="575,862.6 578.6,862.2 589.5,856.1 588,858.8 575.5,869" fill="#1e96ee"/>
</svg>
</body></html>
